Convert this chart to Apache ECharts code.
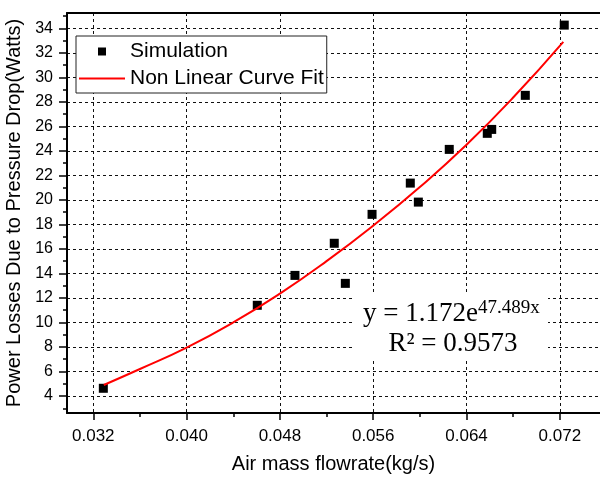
<!DOCTYPE html>
<html>
<head>
<meta charset="utf-8">
<script src="https://cdn.jsdelivr.net/npm/echarts@6/dist/echarts.min.js"></script>
<style>
  html, body { margin: 0; padding: 0; background: #fff; }
  #chart { width: 600px; height: 480px; }
</style>
</head>
<body>
<div id="chart"></div>
<script>
// Simulated power losses versus air mass flow rate
const flowrate = [0.03286, 0.04606, 0.04929, 0.05266, 0.05361, 0.05590, 0.05918, 0.05987, 0.06252, 0.06578, 0.06616, 0.06904, 0.07238];
const powerLoss = [4.63, 11.40, 13.84, 16.46, 13.19, 18.82, 21.37, 19.82, 24.12, 25.43, 25.75, 28.53, 34.26];

// Sampled points along the non-linear fit curve
const fitFlowrate = [0.0329, 0.0360, 0.0400, 0.0440, 0.0480, 0.0520, 0.0560, 0.0600, 0.0640, 0.0680, 0.0723];
const fitPower = [4.90, 6.20, 7.95, 10.00, 12.35, 15.00, 17.90, 21.05, 24.50, 28.35, 32.90];

// Axis ticks
const xTicks = [0.032, 0.040, 0.048, 0.056, 0.064, 0.072];
const xMinorTicks = [0.036, 0.044, 0.052, 0.060, 0.068];
const yTicks = [4, 6, 8, 10, 12, 14, 16, 18, 20, 22, 24, 26, 28, 30, 32, 34];
const yMinorTicks = [3, 5, 7, 9, 11, 13, 15, 17, 19, 21, 23, 25, 27, 29, 31, 33, 35];

const xRange = [0.029745, 0.075445];
const yRange = [2.613, 35.248];

const SANS = '"Liberation Sans", Arial, sans-serif';
const SERIF = '"Liberation Serif", "Times New Roman", serif';

const gridDash = { type: [3, 3], color: '#111', width: 1 };

const chart = echarts.init(document.getElementById('chart'), null, { renderer: 'canvas' });

chart.setOption({
  animation: false,
  backgroundColor: '#fff',
  grid: { left: 67, top: 13, right: 0, bottom: 67, containLabel: false, outerBoundsMode: 'none' },
  legend: {
    orient: 'vertical',
    left: 76,
    top: 36,
    padding: [5, 3, 4, 3],
    itemWidth: 46,
    itemHeight: 8,
    itemGap: 6,
    borderColor: '#222',
    borderWidth: 1,
    backgroundColor: '#fff',
    textStyle: { fontFamily: SANS, fontSize: 21, color: '#000' },
    data: [
      { name: 'Simulation', icon: 'path://M0,0H10V10H0Z' },
      { name: 'Non Linear Curve Fit', icon: 'path://M0,0H100V4H0Z' }
    ]
  },
  xAxis: [
    {
      type: 'value',
      min: xRange[0], max: xRange[1],
      position: 'bottom',
      name: 'Air mass flowrate(kg/s)',
      nameLocation: 'middle',
      nameGap: 41,
      nameTextStyle: { fontFamily: SANS, fontSize: 20, color: '#000' },
      axisLine: { show: true, onZero: false, lineStyle: { color: '#000', width: 2 } },
      axisTick: { show: true, customValues: xTicks, length: 7, inside: false, lineStyle: { color: '#000', width: 1.5 } },
      axisLabel: {
        customValues: xTicks, margin: 15, fontFamily: SANS, fontSize: 17, color: '#000',
        formatter: v => v.toFixed(3)
      },
      splitLine: { show: true, lineStyle: gridDash }
    },
    {
      type: 'value',
      min: xRange[0], max: xRange[1],
      position: 'bottom',
      axisLine: { show: false, onZero: false },
      axisTick: { show: true, customValues: xMinorTicks, length: 4, inside: false, lineStyle: { color: '#000', width: 1.5 } },
      axisLabel: { show: false },
      splitLine: { show: false }
    },
    {
      type: 'value',
      min: xRange[0], max: xRange[1],
      position: 'top',
      axisLine: { show: true, onZero: false, lineStyle: { color: '#000', width: 2 } },
      axisTick: { show: false },
      axisLabel: { show: false },
      splitLine: { show: false }
    }
  ],
  yAxis: [
    {
      type: 'value',
      min: yRange[0], max: yRange[1],
      position: 'left',
      name: 'Power Losses Due to Pressure Drop(Watts)',
      nameLocation: 'middle',
      nameGap: 33,
      nameTextStyle: { fontFamily: SANS, fontSize: 20, color: '#000' },
      axisLine: { show: true, onZero: false, lineStyle: { color: '#000', width: 2 } },
      axisTick: { show: true, customValues: yTicks, length: 8, inside: false, lineStyle: { color: '#000', width: 1.5 } },
      axisLabel: { customValues: yTicks, margin: 14, fontFamily: SANS, fontSize: 16, color: '#000' },
      splitLine: { show: true, lineStyle: gridDash }
    },
    {
      type: 'value',
      min: yRange[0], max: yRange[1],
      position: 'left',
      axisLine: { show: false, onZero: false },
      axisTick: { show: true, customValues: yMinorTicks, length: 4, inside: false, lineStyle: { color: '#000', width: 1.5 } },
      axisLabel: { show: false },
      splitLine: { show: false }
    }
  ],
  series: [
    {
      name: 'Simulation',
      type: 'scatter',
      symbol: 'rect',
      symbolSize: 9,
      itemStyle: { color: '#000', opacity: 1 },
      data: flowrate.map((x, i) => [x, powerLoss[i]]),
      z: 3
    },
    {
      name: 'Non Linear Curve Fit',
      type: 'line',
      smooth: true,
      symbol: 'none',
      lineStyle: { color: '#ff0000', width: 2 },
      itemStyle: { color: '#ff0000' },
      data: fitFlowrate.map((x, i) => [x, fitPower[i]]),
      z: 4
    }
  ],
  graphic: [
    {
      type: 'rect',
      z: 5,
      shape: { x: 355, y: 292, width: 193, height: 68 },
      style: { fill: '#fff' }
    },
    {
      type: 'text',
      z: 6,
      x: 478, y: 314,
      style: { text: 'y = 1.172e', font: '27px ' + SERIF, fill: '#000', textAlign: 'right', textVerticalAlign: 'middle' }
    },
    {
      type: 'text',
      z: 6,
      x: 478, y: 308,
      style: { text: '47.489x', font: '19px ' + SERIF, fill: '#000', textAlign: 'left', textVerticalAlign: 'middle' }
    },
    {
      type: 'text',
      z: 6,
      x: 453, y: 344,
      style: { text: 'R² = 0.9573', font: '27px ' + SERIF, fill: '#000', textAlign: 'center', textVerticalAlign: 'middle' }
    }
  ]
});
</script>
</body>
</html>
